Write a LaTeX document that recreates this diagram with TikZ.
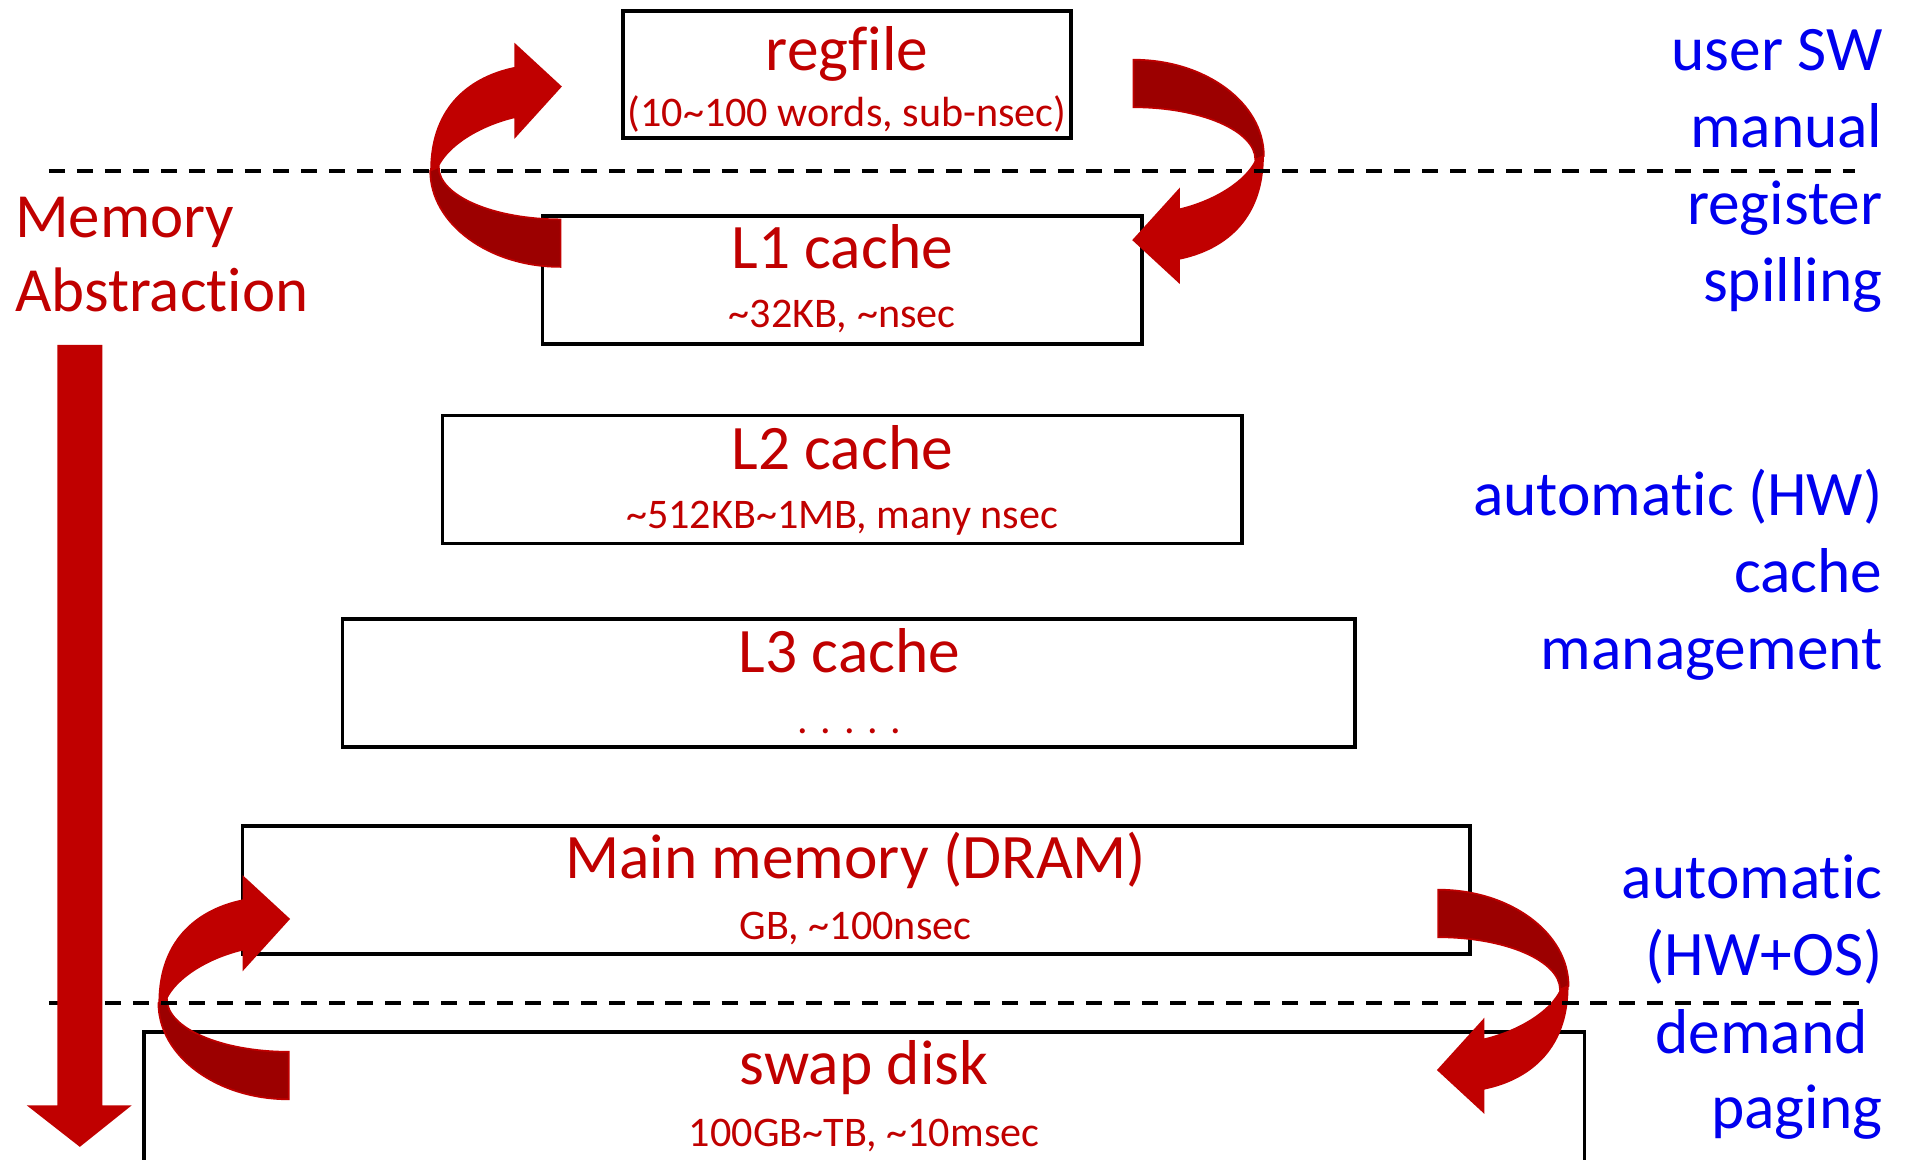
\documentclass[tikz,border=0pt]{standalone}
\usepackage{fontspec}
\setmainfont{Carlito}[Ligatures={NoCommon,NoContextual}]
\usetikzlibrary{fit}
\definecolor{hred}{HTML}{C00000}
\definecolor{hdark}{HTML}{9C0000}
\definecolor{hblue}{HTML}{0000EE}
\newcommand\tl{\textasciitilde}
\begin{document}
\begin{tikzpicture}[x=0.5pt,y=-0.5pt,
  level/.style={draw=black, line width=1.5pt, inner sep=0pt, fill=none},
  title/.style={text=hred, inner sep=0pt, anchor=base, font=\fontsize{26}{31}\selectfont},
  sub/.style={text=hred, inner sep=0pt, anchor=base, font=\fontsize{17.3}{21}\selectfont},
  note/.style={text=hblue, inner sep=0pt, anchor=base east, font=\fontsize{26}{31}\selectfont},
  side/.style={text=hred, inner sep=0pt, anchor=base west, font=\fontsize{25.8}{31}\selectfont},
  divider/.style={line width=1.6pt, dash pattern=on 6.6pt off 4.9pt},
  curl/.pic={
    % back side of the ribbon (tail)
    \fill[hdark, draw=hred, line width=0.7pt]
      (0,0) .. controls (0,43.6) and (48,79) .. (107,79) -- (107,40)
      .. controls (51.8,40) and (7,20.7) .. (7,-3) -- cycle;
    % front side of the ribbon with the head
    \fill[hred]
      (0,0) .. controls (0,-55) and (35,-78) .. (69,-85) -- (69,-105)
      -- (108,-69) -- (69,-26) -- (69,-43)
      .. controls (40,-36) and (15,-20) .. (7,-3) -- cycle;
  }]
\useasboundingbox (0,0) rectangle (1568,951);

% memory levels
\node[level, fit={(511,9) (879,113)}] (reg) {};
\node[level, fit={(445,177) (937,282)}] (l1) {};
\node[level, fit={(363,341) (1019,446)}] (l2) {};
\node[level, fit={(281,508) (1112,613)}] (l3) {};
\node[level, fit={(199,678) (1206,783)}] (dram) {};
\draw[line width=1.5pt] (118,975) -- (118,847) coordinate (swapnw) -- (1300,847) coordinate (swapne) -- (1300,975);

\node[title] (regt) at (695,58) {regfile};
\node[sub] (regs) at (695,104) {(10\tl100 words, sub-nsec)};
\node[title] (l1t) at (691,220) {L1 cache};
\node[sub] (l1s) at (691,269) {\tl32KB, \tl nsec};
\node[title] (l2t) at (691,385) {L2 cache};
\node[sub] (l2s) at (691,434) {\tl512KB\tl1MB, many nsec};
\node[title] (l3t) at (697,552) {L3 cache};
\node[sub] (l3s) at (697,602) {. . . . .};
\node[title] (dramt) at (702,721) {Main memory (DRAM)};
\node[sub] (drams) at (702,771) {GB, \tl100nsec};
\node[title] (swapt) at (709,890) {swap disk};
\node[sub] (swaps) at (709,941) {100GB\tl TB, \tl10msec};

% curled arrows between levels
\pic at (353,140) {curl};
\pic[rotate=180] at (1037,128) {curl};
\pic at (130,823) {curl};
\pic[rotate=180] at (1287,809) {curl};

% management boundaries
\draw[divider] (40,140) coordinate (d1w) -- (1522,140) coordinate (d1e);
\draw[divider] (40,823) coordinate (d2w) -- (1533,823) coordinate (d2e);

% abstraction arrow
\node[side] (mem) at (12,195) {Memory};
\node[side] (abs) at (12,256) {Abstraction};
\fill[hred] (47,283) -- (84,283) -- (84,907) -- (108,907) -- (65.5,941)
  -- (22,907) -- (47,907) -- cycle;

% management notes
\node[note] (n1) at (1545,58) {user SW};
\node[note] (n2) at (1545,121) {manual};
\node[note] (n3) at (1545,184) {register};
\node[note] (n4) at (1545,247) {spilling};
\node[note] (n5) at (1545,423) {automatic (HW)};
\node[note] (n6) at (1545,486) {cache};
\node[note] (n7) at (1545,549) {management};
\node[note] (n8) at (1545,737) {automatic};
\node[note] (n9) at (1545,800) {(HW+OS)};
\node[note] (n10) at (1533,864) {demand};
\node[note] (n11) at (1545,926) {paging};
\end{tikzpicture}
\end{document}
